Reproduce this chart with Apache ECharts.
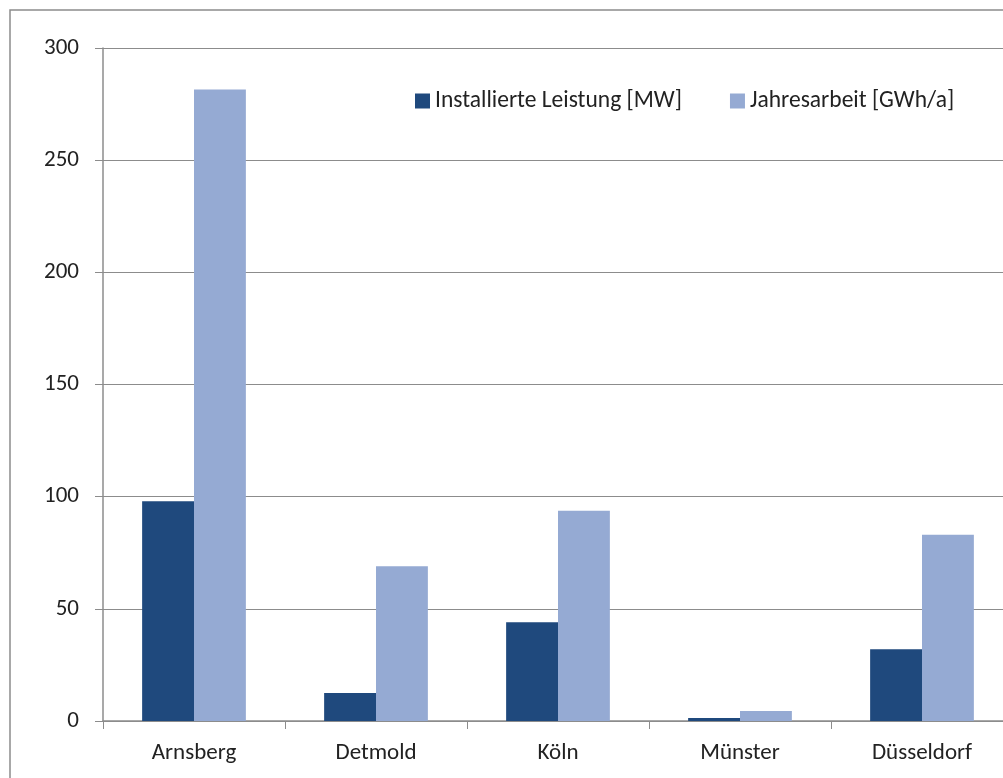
<!DOCTYPE html>
<html>
<head>
    <meta charset="UTF-8">
    <title>Leistung und Jahresarbeit</title>
    <script type="text/javascript" src="https://cdn.jsdelivr.net/npm/echarts@6/dist/echarts.min.js"></script>
    <style>
        html, body { margin: 0; padding: 0; background: #fff; overflow: hidden; }
        #chart { width: 1030px; height: 778px; }
    </style>
</head>
<body>
<div id="chart"></div>
<script type="text/javascript">
    var categories = ['Arnsberg', 'Detmold', 'Köln', 'Münster', 'Düsseldorf'];
    var leistungMW = [98, 12.5, 44, 1.3, 32];
    var jahresarbeitGWh = [281.5, 69, 93.7, 4.5, 83];
    var yTicks = [0, 50, 100, 150, 200, 250, 300];

    var font = 'Carlito, Lato, "Liberation Sans Narrow", "DejaVu Sans Condensed", sans-serif';
    var myChart = echarts.init(document.getElementById('chart'));

    myChart.setOption({
        animation: false,
        textStyle: { fontFamily: font },
        graphic: [{
            type: 'rect',
            shape: { x: 10, y: 10, width: 1200, height: 900 },
            style: { fill: 'none', stroke: '#8c8c8c', lineWidth: 1.5 },
            silent: true
        }],
        legend: {
            left: 410,
            top: 84,
            itemWidth: 15,
            itemHeight: 15,
            itemGap: 48,
            icon: 'rect',
            textStyle: { fontSize: 23.5, color: '#222', fontFamily: font },
            data: ['Installierte Leistung [MW]', 'Jahresarbeit [GWh/a]']
        },
        grid: { left: 103, top: 48, width: 910, height: 673, containLabel: false, outerBoundsMode: 'none' },
        xAxis: {
            type: 'category',
            data: categories,
            axisLine: { lineStyle: { color: '#8c8c8c', width: 1.5 } },
            axisTick: { show: true, length: 8, lineStyle: { color: '#8c8c8c' } },
            axisLabel: { fontSize: 23, color: '#222', margin: 21, fontFamily: font },
            splitLine: { show: false }
        },
        yAxis: {
            type: 'value',
            min: yTicks[0],
            max: yTicks[yTicks.length - 1],
            interval: 50,
            axisLine: { show: true, lineStyle: { color: '#8c8c8c', width: 1.5 } },
            axisTick: { show: true, length: 8, lineStyle: { color: '#8c8c8c' } },
            axisLabel: { fontSize: 23, color: '#222', margin: 24, fontFamily: font },
            splitLine: { show: true, lineStyle: { color: '#8c8c8c', width: 1 } }
        },
        series: [{
            name: 'Installierte Leistung [MW]',
            type: 'bar',
            data: leistungMW,
            barGap: '0%',
            barCategoryGap: '43%',
            itemStyle: { color: '#1f497d' }
        }, {
            name: 'Jahresarbeit [GWh/a]',
            type: 'bar',
            data: jahresarbeitGWh,
            barGap: '0%',
            barCategoryGap: '43%',
            itemStyle: { color: '#95aad3' }
        }]
    });
</script>
</body>
</html>
